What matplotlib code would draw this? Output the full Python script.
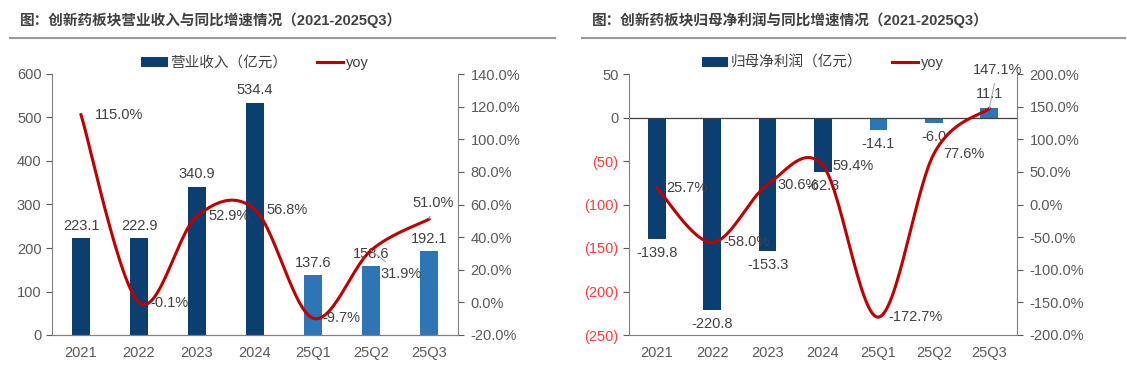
import numpy as np
import matplotlib
matplotlib.use('Agg')
import matplotlib.pyplot as plt
from matplotlib.lines import Line2D
from matplotlib.ticker import FuncFormatter, MultipleLocator

plt.rcParams['font.family'] = ['Liberation Sans', 'Noto Sans CJK SC']

cats = ['2021', '2022', '2023', '2024', '25Q1', '25Q2', '25Q3']
revenue = [223.1, 222.9, 340.9, 534.4, 137.6, 158.6, 192.1]
revenue_yoy = [115.0, -0.1, 52.9, 56.8, -9.7, 31.9, 51.0]
profit = [-139.8, -220.8, -153.3, -62.3, -14.1, -6.0, 11.1]
profit_yoy = [25.7, -58.0, 30.6, 59.4, -172.7, 77.6, 147.1]

DARK = '#0B3F71'
LIGHT = '#2E75B6'
RED = '#C00000'
TXT = '#404040'
W, H = 1127, 369


def smooth(x, y, n=30):
    # catmull-rom style smoothing like excel's smoothed line
    x = np.asarray(x, float); y = np.asarray(y, float)
    px = np.r_[x[0], x, x[-1]]; py = np.r_[y[0], y, y[-1]]
    xs, ys = [], []
    for i in range(1, len(px) - 2):
        p0 = np.array([px[i], py[i]]); p3 = np.array([px[i + 1], py[i + 1]])
        c1 = p0 + (np.array([px[i + 1], py[i + 1]]) - np.array([px[i - 1], py[i - 1]])) / 6
        c2 = p3 - (np.array([px[i + 2], py[i + 2]]) - np.array([px[i], py[i]])) / 6
        t = np.linspace(0, 1, n)[:, None]
        b = (1 - t) ** 3 * p0 + 3 * (1 - t) ** 2 * t * c1 + 3 * (1 - t) * t ** 2 * c2 + t ** 3 * p3
        xs.extend(b[:, 0]); ys.extend(b[:, 1])
    return xs, ys


def box(l, b, r, t):
    return [l / W, (H - b) / H, (r - l) / W, (b - t) / H]


fig = plt.figure(figsize=(W / 100, H / 100), dpi=100)

# titles
fig.text(20 / W, 1 - 20 / H, '图：创新药板块营业收入与同比增速情况（2021-2025Q3）', fontsize=10.5,
         fontweight='bold', color=TXT, va='center', ha='left')
fig.text(592 / W, 1 - 20 / H, '图：创新药板块归母净利润与同比增速情况（2021-2025Q3）', fontsize=10.5,
         fontweight='bold', color=TXT, va='center', ha='left')
fig.add_artist(Line2D([10 / W, 555 / W], [1 - 38 / H] * 2, color='#9A9A9A', lw=1.5))
fig.add_artist(Line2D([582 / W, 1125 / W], [1 - 38 / H] * 2, color='#9A9A9A', lw=1.5))

x = np.arange(len(cats))
colors = [DARK] * 4 + [LIGHT] * 3


def style(ax, ax2):
    ax.spines['top'].set_visible(False); ax2.spines['top'].set_visible(False)
    for a in (ax, ax2):
        for s in ['left', 'right', 'bottom']:
            a.spines[s].set_color('#808080')
        a.tick_params(colors='#595959', labelsize=10.5, length=4, width=0.8)
    ax.tick_params(axis='x', length=0, pad=8)
    ax2.tick_params(axis='y', pad=5)
    ax2.spines['left'].set_visible(False)
    ax.spines['right'].set_visible(False)


def legend(a, a2):
    h1, l1 = a.get_legend_handles_labels()
    h2, l2 = a2.get_legend_handles_labels()
    a.legend(h1 + h2, l1 + l2, loc='center', bbox_to_anchor=(0.5, 1 + 11 / 261), ncol=2, frameon=False,
             fontsize=10.5, labelcolor=TXT, handlelength=1.8, handletextpad=0.2, columnspacing=2,
             borderaxespad=0)


def yoy_labels(a, vals, offs, leaders):
    for i, (v, o) in enumerate(zip(vals, offs)):
        kw = {}
        if i in leaders:
            kw['arrowprops'] = dict(arrowstyle='-', color='#A0A0A0', lw=0.7, shrinkA=3, shrinkB=0)
        a.annotate(f'{v:.1f}%', (i, v), xytext=o, textcoords='offset points', ha='left', va='center',
                   fontsize=10.5, color=TXT, **kw)


# ---------- left chart ----------
ax = fig.add_axes(box(52, 335, 458, 74))
ax2 = ax.twinx()
ax.bar(x, revenue, width=0.32, color=colors, label='营业收入（亿元）')
ax.set_ylim(0, 600)
ax.yaxis.set_major_locator(MultipleLocator(100))
ax.set_xlim(-0.5, 6.5)
ax.set_xticks(x, cats)
sx, sy = smooth(x, revenue_yoy)
ax2.plot(sx, sy, color=RED, lw=2.2, label='yoy')
ax2.set_ylim(-20, 140)
ax2.yaxis.set_major_locator(MultipleLocator(20))
ax2.yaxis.set_major_formatter(FuncFormatter(lambda v, p: f'{v:.1f}%'))
style(ax, ax2)

for i, v in enumerate(revenue):
    ax.text(i, v + 12, f'{v:.1f}', ha='center', va='bottom', fontsize=10.5, color=TXT)
yoy_labels(ax2, revenue_yoy, [(10, 0), (8, 0), (8, 0), (8, 0), (7, 0), (7, -17), (-12, 12)], (5, 6))
legend(ax, ax2)

# ---------- right chart ----------
bx = fig.add_axes(box(629, 335, 1017, 74))
bx2 = bx.twinx()
bx.bar(x, profit, width=0.32, color=colors, label='归母净利润（亿元）')
bx.set_ylim(-250, 50)
bx.yaxis.set_major_locator(MultipleLocator(50))
bx.yaxis.set_major_formatter(FuncFormatter(lambda v, p: f'({abs(v):.0f})' if v < 0 else f'{v:.0f}'))
bx.set_xlim(-0.5, 6.5)
bx.set_xticks(x, cats)
bx.axhline(0, color='#404040', lw=0.9)
sx, sy = smooth(x, profit_yoy)
bx2.plot(sx, sy, color=RED, lw=2.2, label='yoy')
bx2.set_ylim(-200, 200)
bx2.yaxis.set_major_locator(MultipleLocator(50))
bx2.yaxis.set_major_formatter(FuncFormatter(lambda v, p: f'{v:.1f}%'))
style(bx, bx2)
bx.spines['bottom'].set_visible(False)
fig.canvas.draw()
for t in bx.get_yticklabels():
    if t.get_text().startswith('('):
        t.set_color('#FF3B3B')

for i, v in enumerate(profit):
    if v < 0:
        bx.text(i, v - 8, f'{v:.1f}', ha='center', va='top', fontsize=10.5, color=TXT)
    else:
        bx.text(i, v + 8, f'{v:.1f}', ha='center', va='bottom', fontsize=10.5, color=TXT)
yoy_labels(bx2, profit_yoy, [(7, 0), (8, 0), (7, 0), (7, 0), (7, 0), (7, 0), (-12, 28)], (6,))
legend(bx, bx2)

fig.savefig('out.png', dpi=100)
